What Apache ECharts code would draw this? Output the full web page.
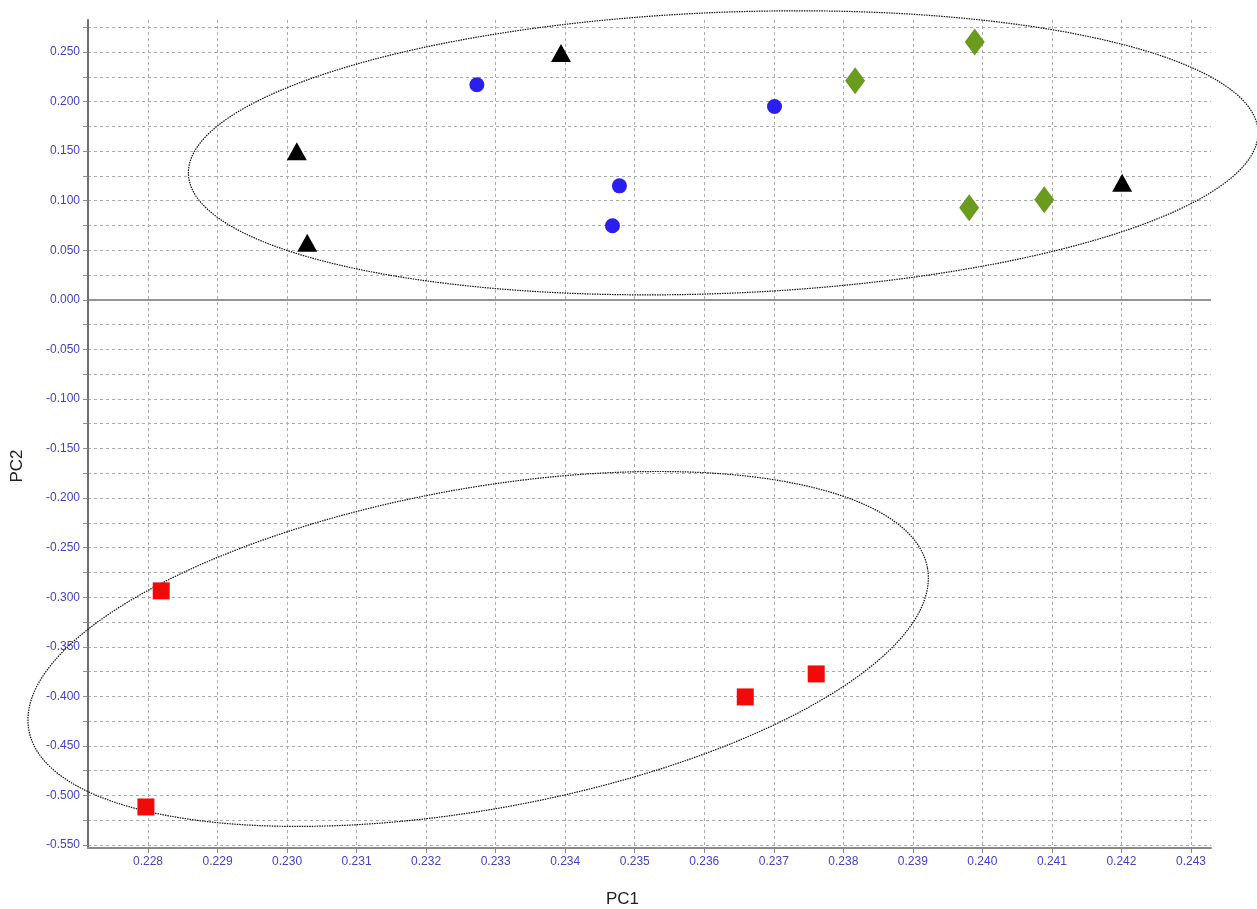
<!DOCTYPE html>
<html>
<head>
<meta charset="utf-8">
<script src="https://cdn.jsdelivr.net/npm/echarts@6/dist/echarts.min.js"></script>
<style>
  html, body { margin: 0; padding: 0; background: #fff; }
  #main { width: 1257px; height: 909px; }
</style>
</head>
<body>
<div id="main"></div>
<script>
var chart = echarts.init(document.getElementById('main'), null, { renderer: 'canvas' });

// axis ranges
var xMin = 0.227137, xMax = 0.243288
var yMin = -0.553, yMax = 0.2823

// tick values
var xTicks = [0.228, 0.229, 0.230, 0.231, 0.232, 0.233, 0.234, 0.235, 0.236, 0.237, 0.238, 0.239, 0.240, 0.241, 0.242, 0.243]
var yLabelTicks = [-0.55, -0.5, -0.45, -0.4, -0.35, -0.3, -0.25, -0.2, -0.15, -0.1, -0.05, 0, 0.05, 0.1, 0.15, 0.2, 0.25]
var yGridTicks = [-0.55, -0.525, -0.5, -0.475, -0.45, -0.425, -0.4, -0.375, -0.35, -0.325, -0.3, -0.275, -0.25, -0.225,
    -0.2, -0.175, -0.15, -0.125, -0.1, -0.075, -0.05, -0.025, 0, 0.025, 0.05, 0.075, 0.1, 0.125, 0.15, 0.175,
    0.2, 0.225, 0.25, 0.275]

// groups [PC1, PC2]
var triangles = [[0.23394, 0.249], [0.23014, 0.150], [0.23029, 0.0575], [0.24201, 0.118]]
var circles = [[0.23273, 0.217], [0.23701, 0.195], [0.23478, 0.115], [0.23468, 0.0747]]
var diamonds = [[0.23817, 0.221], [0.23989, 0.260], [0.23981, 0.0928], [0.24089, 0.101]]
var squares = [[0.22819, -0.2936], [0.22797, -0.5116], [0.23659, -0.4006], [0.23761, -0.3774]]

// confidence ellipses: centre, and two half-axis vectors (data units)
var upperCenter = [0.236273, 0.1483]
var upperAxisU = [0.007692, 0.02158]
var upperAxisV = [0.0000809, -0.14166]
var lowerCenter = [0.232748, -0.3522]
var lowerAxisU = [0.006462, 0.08184]
var lowerAxisV = [0.000410, -0.15923]

function ellipse(c, u, v) {
    var pts = []
    for (var i = 0; i <= 240; i++) {
        var t = i / 240 * Math.PI * 2
        pts.push([c[0] + u[0] * Math.cos(t) + v[0] * Math.sin(t), c[1] + u[1] * Math.cos(t) + v[1] * Math.sin(t)])
    }
    return pts
}

// custom series so the outline may run past the plot edges like in the original
function ellipseSeries(pts) {
    return {
        type: 'custom',
        data: [[pts[0][0], pts[0][1]]],
        clip: false,
        silent: true,
        z: 1,
        renderItem: function (params, api) {
            return {
                type: 'polyline',
                shape: { points: pts.map(function (p) { return api.coord(p) }) },
                style: { fill: null, stroke: '#111', lineWidth: 1.2, lineDash: [1.5, 1] }
            }
        }
    }
}

var labelColor = '#4343c0'
var gridLine = { show: true, lineStyle: { color: '#aaaaaa', width: 1, type: [3, 3] } }

chart.setOption({
    animation: false,
    backgroundColor: '#fff',
    grid: { left: 88, right: 46, top: 20, bottom: 61, outerBoundsMode: 'none' },
    xAxis: {
        type: 'value',
        min: xMin,
        max: xMax,
        name: 'PC1',
        nameLocation: 'middle',
        nameGap: 43,
        nameTextStyle: { color: '#222', fontSize: 17, fontFamily: 'Liberation Sans', padding: [0, 54, 0, 0] },
        axisLine: { show: true, onZero: false, lineStyle: { color: '#8a8a8a', width: 2 } },
        axisTick: { show: true, length: 5, customValues: xTicks, lineStyle: { color: '#8a8a8a' } },
        axisLabel: {
            customValues: xTicks, color: labelColor, fontSize: 12, fontFamily: 'Liberation Sans', margin: 8,
            formatter: function (v) { return v.toFixed(3) }
        },
        splitLine: gridLine
    },
    yAxis: {
        type: 'value',
        min: yMin,
        max: yMax,
        name: 'PC2',
        nameLocation: 'middle',
        nameGap: 62,
        nameTextStyle: { color: '#222', fontSize: 17, fontFamily: 'Liberation Sans', padding: [0, 64, 0, 0] },
        axisLine: { show: true, lineStyle: { color: '#6e6e6e', width: 2 } },
        axisTick: { show: true, length: 5, customValues: yGridTicks, lineStyle: { color: '#8a8a8a' } },
        axisLabel: {
            customValues: yLabelTicks, color: labelColor, fontSize: 12, fontFamily: 'Liberation Sans', margin: 8,
            formatter: function (v) { return v.toFixed(3) }
        },
        splitLine: gridLine
    },
    series: [
        ellipseSeries(ellipse(upperCenter, upperAxisU, upperAxisV)),
        ellipseSeries(ellipse(lowerCenter, lowerAxisU, lowerAxisV)),
        {
            type: 'scatter', data: triangles, symbol: 'triangle', symbolSize: [20, 18], itemStyle: { color: '#000', opacity: 1 }, z: 3,
            markLine: {
                silent: true, symbol: 'none', label: { show: false }, z: 0,
                lineStyle: { color: '#959595', width: 2, type: 'solid' },
                data: [{ yAxis: 0 }]
            }
        },
        { type: 'scatter', data: circles, symbol: 'circle', symbolSize: 15, itemStyle: { color: '#2a1ff0', opacity: 1 }, z: 3 },
        { type: 'scatter', data: diamonds, symbol: 'diamond', symbolSize: [20, 27], itemStyle: { color: '#6a9a1e', opacity: 1 }, z: 3 },
        { type: 'scatter', data: squares, symbol: 'rect', symbolSize: 17, itemStyle: { color: '#f00a0a', opacity: 1 }, z: 3 }
    ]
});
</script>
</body>
</html>
